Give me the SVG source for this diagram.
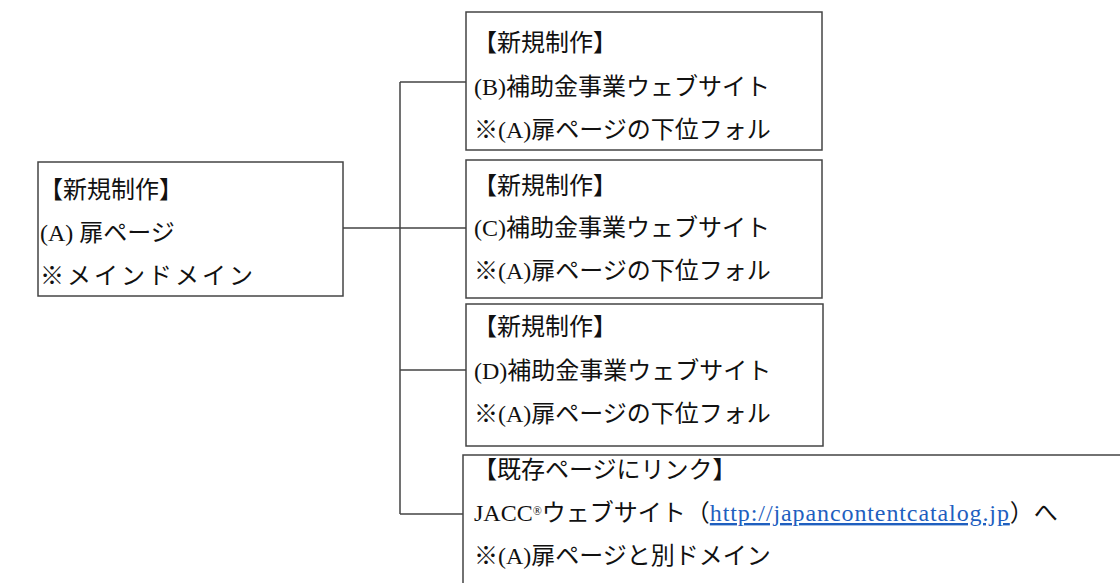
<svg xmlns="http://www.w3.org/2000/svg" width="1120" height="583" viewBox="0 0 1120 583">
<style>
.box{fill:#fff;stroke:#444;stroke-width:1.5}
.conn{fill:none;stroke:#444;stroke-width:1.5}
text{font-family:"Liberation Serif","Noto Sans CJK JP",serif;font-size:24px;fill:#111}
.link{fill:#1f5fbf;text-decoration:underline;letter-spacing:0.9px}
</style>
<rect width="1120" height="583" fill="#fff"/>
<g id="connectors">
<path class="conn" d="M343,228 H400 M400,82 V514 M400,82 H466 M400,228 H466 M400,370 H466 M400,514 H463"/>
</g>
<g id="nodeA">
<rect class="box" x="38" y="162" width="305" height="134"/>
<text x="39" y="198">【新規制作】</text>
<text x="40" y="241">(A) 扉ページ</text>
<text x="40" y="284" letter-spacing="3">※メインドメイン</text>
</g>
<g id="nodeB">
<rect class="box" x="466" y="12" width="356" height="138"/>
<text x="473" y="51">【新規制作】</text>
<text x="474" y="95">(B)補助金事業ウェブサイト</text>
<text x="474" y="138">※(A)扉ページの下位フォル</text>
</g>
<g id="nodeC">
<rect class="box" x="466" y="160" width="356" height="138"/>
<text x="473" y="194">【新規制作】</text>
<text x="474" y="236">(C)補助金事業ウェブサイト</text>
<text x="474" y="279">※(A)扉ページの下位フォル</text>
</g>
<g id="nodeD">
<rect class="box" x="466" y="304" width="357" height="142"/>
<text x="473" y="335">【新規制作】</text>
<text x="474" y="379">(D)補助金事業ウェブサイト</text>
<text x="474" y="422">※(A)扉ページの下位フォル</text>
</g>
<g id="nodeE">
<rect class="box" x="463" y="455" width="700" height="160"/>
<text x="473" y="478">【既存ページにリンク】</text>
<text x="474" y="521">JACC<tspan font-size="12" dy="-6">®</tspan><tspan dy="6">ウェブサイト（</tspan><tspan class="link">http://japancontentcatalog.jp</tspan>）へ</text>
<text x="474" y="564">※(A)扉ページと別ドメイン</text>
</g>
</svg>
